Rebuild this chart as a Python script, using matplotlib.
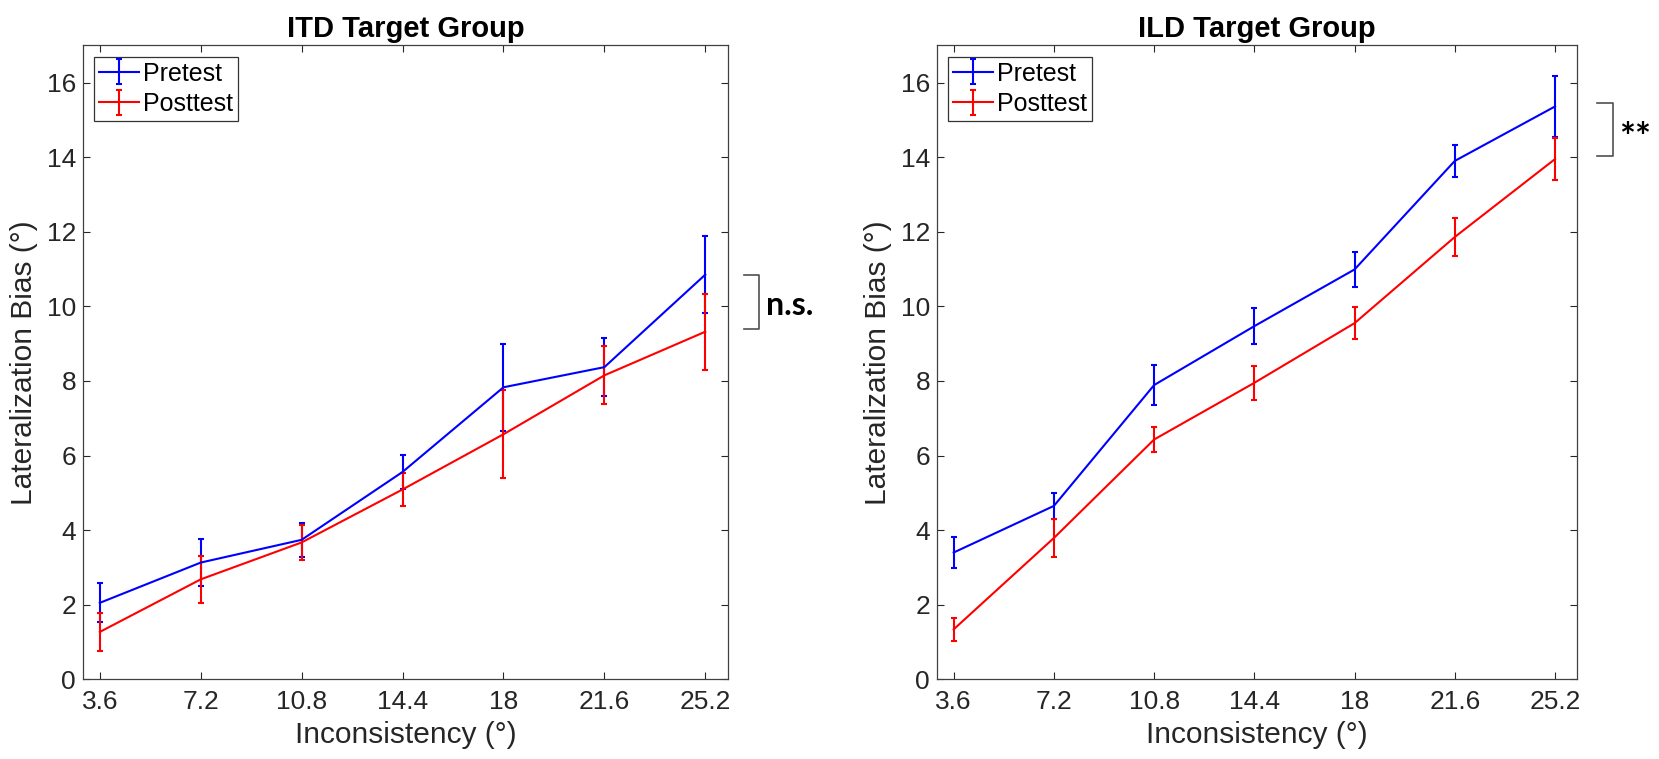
import matplotlib
matplotlib.use('Agg')
import matplotlib.pyplot as plt
import matplotlib.transforms as mtransforms

plt.rcParams['font.family'] = ['Liberation Sans', 'DejaVu Sans']

# ---- data ----
x_vals = [3.6, 7.2, 10.8, 14.4, 18, 21.6, 25.2]
x_ticklabels = ['3.6', '7.2', '10.8', '14.4', '18', '21.6', '25.2']
y_ticks = [0, 2, 4, 6, 8, 10, 12, 14, 16]

itd_pre = [2.05, 3.13, 3.74, 5.56, 7.83, 8.37, 10.85]
itd_pre_err = [0.52, 0.62, 0.46, 0.46, 1.17, 0.77, 1.04]
itd_post = [1.27, 2.68, 3.67, 5.09, 6.57, 8.15, 9.32]
itd_post_err = [0.51, 0.63, 0.48, 0.44, 1.18, 0.78, 1.02]

ild_pre = [3.40, 4.65, 7.89, 9.47, 10.99, 13.90, 15.36]
ild_pre_err = [0.41, 0.35, 0.53, 0.48, 0.48, 0.43, 0.81]
ild_post = [1.34, 3.79, 6.43, 7.95, 9.55, 11.86, 13.95]
ild_post_err = [0.31, 0.50, 0.33, 0.45, 0.43, 0.51, 0.57]

itd_bracket = [9.39, 10.83]
ild_bracket = [14.02, 15.45]
itd_sig = 'n.s.'
ild_sig = '**'

titles = ['ITD Target Group', 'ILD Target Group']
xlabel = 'Inconsistency (°)'
ylabel = 'Lateralization Bias (°)'

W, H = 1659, 759
fig = plt.figure(figsize=(W / 100, H / 100), dpi=100)

ax_rects = [
    [83 / W, 1 - 679.3 / H, 644.7 / W, 634 / H],
    [937 / W, 1 - 679.3 / H, 640.3 / W, 634 / H],
]

datasets = [
    (itd_pre, itd_pre_err, itd_post, itd_post_err, itd_bracket, itd_sig),
    (ild_pre, ild_pre_err, ild_post, ild_post_err, ild_bracket, ild_sig),
]

txt_col = '#262626'
fs_tick = 19
fs_label = 21.5

for i, (pre, pre_e, post, post_e, br, sig) in enumerate(datasets):
    ax = fig.add_axes(ax_rects[i])
    ax.errorbar(x_vals, pre, yerr=pre_e, color='#0000ff', lw=1.5,
                elinewidth=1.5, capsize=2.2, capthick=1.5, label='Pretest')
    ax.errorbar(x_vals, post, yerr=post_e, color='#ff0000', lw=1.5,
                elinewidth=1.5, capsize=2.2, capthick=1.5, label='Posttest')
    ax.set_xlim(3.0, 26.0)
    ax.set_ylim(0, 17)
    ax.set_xticks(x_vals)
    ax.set_xticklabels(x_ticklabels)
    ax.set_yticks(y_ticks)
    ax.tick_params(direction='in', top=True, right=True, length=5, width=0.8,
                   colors=txt_col, labelsize=fs_tick)
    ax.tick_params(axis='x', pad=8)
    ax.tick_params(axis='y', pad=5)
    for sp in ax.spines.values():
        sp.set_color('#404040')
        sp.set_linewidth(0.9)
    ax.set_xlabel(xlabel, fontsize=fs_label, color=txt_col, labelpad=5)
    ax.set_ylabel(ylabel, fontsize=fs_label, color=txt_col, labelpad=6)
    ax.set_title(titles[i], fontsize=21, fontweight='bold', color='black', pad=6)
    leg = ax.legend(loc='upper left', fontsize=18, frameon=True, fancybox=False,
                    edgecolor='black', handlelength=1.6, handletextpad=0.15,
                    borderpad=0.2, labelspacing=0.25, borderaxespad=0.45)
    leg.get_frame().set_linewidth(0.9)

    # significance bracket
    trans = mtransforms.blended_transform_factory(ax.transAxes, ax.transData)
    if i == 0:
        x0, x1, xt = 1.026, 1.049, 1.060
        dy = -3
        fs = 23
    else:
        x0, x1, xt = 1.031, 1.055, 1.066
        dy = -9
        fs = 27
    ax.plot([x0, x1, x1, x0], [br[1], br[1], br[0], br[0]], color='#505050',
            lw=1.2, transform=trans, clip_on=False)
    ax.annotate(sig, xy=(xt, (br[0] + br[1]) / 2), xycoords=trans,
                xytext=(0, dy), textcoords='offset pixels',
                ha='left', va='center', fontsize=fs, fontweight='bold',
                family=['Lato', 'DejaVu Sans'], color='black', annotation_clip=False)

fig.savefig('out.png', dpi=100)
